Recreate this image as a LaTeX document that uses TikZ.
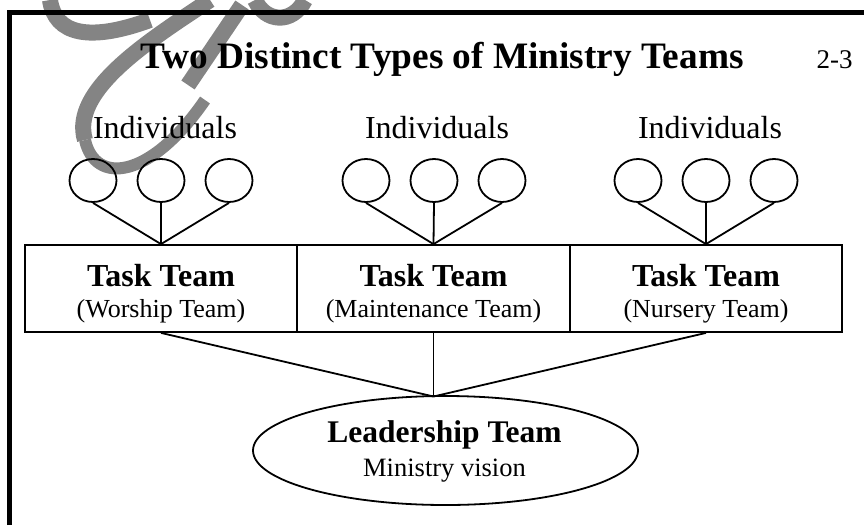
\documentclass[tikz,border=0pt]{standalone}
\usepackage{fontspec}
\setmainfont{Liberation Serif}
\usetikzlibrary{shapes.geometric}
\definecolor{wmgray}{RGB}{132,132,132}
\tikzset{
  person/.style={draw, ellipse, line width=1.8pt, minimum width=47pt, minimum height=43pt, inner sep=0pt},
  teambox/.style={draw, rectangle, line width=1.8pt, minimum width=272pt, minimum height=87pt, inner sep=0pt},
  leadell/.style={draw, ellipse, line width=1.8pt, minimum width=385pt, minimum height=109pt, inner sep=0pt},
  link/.style={line width=1.8pt},
  frameline/.style={line width=5pt},
  wm/.style={draw=wmgray, line width=16pt},
  titletext/.style={anchor=base, font=\fontsize{37.3}{40}\selectfont\bfseries},
  numtext/.style={anchor=base west, font=\fontsize{27}{30}\selectfont},
  indtext/.style={anchor=base, font=\fontsize{32}{36}\selectfont},
  headtext/.style={anchor=base, font=\fontsize{32}{36}\selectfont\bfseries},
  subtext/.style={anchor=base, font=\fontsize{26}{30}\selectfont},
  leadtext/.style={anchor=base, font=\fontsize{31.5}{35}\selectfont\bfseries},
  visiontext/.style={anchor=base, font=\fontsize{26.5}{30}\selectfont},
}
\begin{document}
\begin{tikzpicture}[x=1pt,y=-1pt]
\useasboundingbox (0,0) rectangle (864,525);
% watermark
\draw[wm] (50,0) .. controls (55,35) and (90,42) .. (150,20);
\draw[wm] (210,0) .. controls (150,40) and (70,90) .. (85,140);
\draw[wm, line width=12pt] (85,140) .. controls (95,185) and (150,180) .. (205,100);
\draw[wm] (188,85) -- (242,5);
\draw[wm] (255,0) .. controls (265,22) and (292,25) .. (305,0);
% frame
\draw[frameline] (9.5,525) -- (9.5,12.5) -- (864,12.5);
% title
\node[titletext] (title) at (442,68) {Two Distinct Types of Ministry Teams};
\node[numtext] (pnum) at (813,68) {2-3};
% individuals labels
\node[indtext] (ind1) at (165,138) {Individuals};
\node[indtext] (ind2) at (437,138) {Individuals};
\node[indtext] (ind3) at (710,138) {Individuals};
% circles
\node[person] (p11) at (93,180.5) {};
\node[person] (p12) at (161,180.5) {};
\node[person] (p13) at (229,180.5) {};
\node[person] (p21) at (366,180.5) {};
\node[person] (p22) at (434,180.5) {};
\node[person] (p23) at (502,180.5) {};
\node[person] (p31) at (638,180.5) {};
\node[person] (p32) at (706,180.5) {};
\node[person] (p33) at (774,180.5) {};
% boxes
\node[teambox] (b1) at (161,288.5) {};
\node[teambox] (b2) at (433.5,288.5) {};
\node[teambox] (b3) at (706,288.5) {};
\node[headtext] (h1) at (161,286) {Task Team};
\node[headtext] (h2) at (433.5,286) {Task Team};
\node[headtext] (h3) at (706,286) {Task Team};
\node[subtext] (s1) at (161,317) {(Worship Team)};
\node[subtext] (s2) at (433.5,317) {(Maintenance Team)};
\node[subtext] (s3) at (706,317) {(Nursery Team)};
% links circles to boxes
\foreach \g in {1,2,3}{
  \foreach \i in {1,2,3}{
    \draw[link] (p\g\i.south) -- (b\g.north);
  }
}
% leadership
\node[leadell] (lead) at (445.5,450.5) {};
\coordinate (meet) at (433.5,396.5);
\node[leadtext] (lt) at (444.5,442) {Leadership Team};
\node[visiontext] (mv) at (444.5,476) {Ministry vision};
\draw[link] (b1.south) -- (meet);
\draw[link] (b2.south) -- (meet);
\draw[link] (b3.south) -- (meet);
\end{tikzpicture}
\end{document}
